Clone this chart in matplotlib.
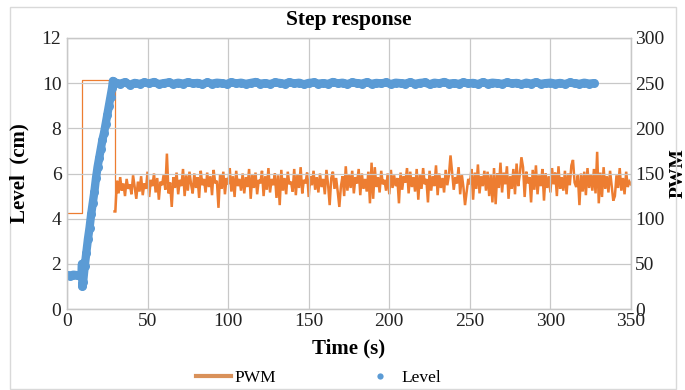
import matplotlib
matplotlib.use('Agg')
import matplotlib.pyplot as plt
import numpy as np
from matplotlib.lines import Line2D
from matplotlib.patches import Rectangle

plt.rcParams['font.family'] = ['Liberation Serif', 'DejaVu Serif']

# ---------------- data ----------------
x_ticks = [0, 50, 100, 150, 200, 250, 300, 350]
level_ticks = [0, 2, 4, 6, 8, 10, 12]
pwm_ticks = [0, 50, 100, 150, 200, 250, 300]

# PWM: initial step part
pwm_step_time = [0, 9.5, 9.5, 29.5, 29.5]
pwm_step_vals = [106, 106, 253, 253, 108]

# PWM: noisy regulated part, one sample per second from 30 s
pwm_noise_start = 30
pwm_noise_step = 1
pwm_noise_vals = [
    108, 142, 128, 146, 131, 139, 125, 144, 133, 138,
    127, 148, 135, 122, 141, 130, 147, 126, 139, 133,
    152, 124, 143, 136, 150, 129, 145, 121, 141, 137,
    149, 132, 172, 128, 140, 113, 146, 134, 151, 127,
    143, 136, 155, 125, 148, 131, 152, 138, 128, 150,
    134, 146, 123, 153, 137, 144, 129, 151, 135, 147,
    126, 154, 139, 142, 112, 149, 133, 152, 127, 145,
    138, 156, 130, 147, 124, 153, 136, 144, 131, 150,
    128, 146, 135, 155, 122, 148, 134, 151, 127, 143,
    139, 153, 125, 147, 132, 156, 129, 144, 137, 150,
    123, 148, 115, 154, 131, 145, 127, 152, 138, 141,
    130, 155, 126, 149, 134, 157, 128, 143, 139, 151,
    124, 147, 137, 153, 132, 146, 129, 150, 135, 144,
    127, 154, 138, 115, 145, 152, 133, 145, 130, 113,
    136, 147, 125, 158, 131, 149, 134, 153, 128, 146,
    139, 155, 126, 150, 133, 144, 130, 152, 117, 162,
    122, 157, 135, 146, 129, 153, 138, 143, 131, 150,
    127, 154, 134, 148, 136, 145, 117, 151, 132, 147,
    140, 156, 128, 152, 135, 146, 130, 155, 121, 149,
    133, 156, 138, 144, 118, 153, 131, 147, 136, 159,
    126, 150, 134, 145, 129, 154, 137, 148, 170, 151,
    132, 146, 139, 157, 127, 149, 135, 115, 130, 144,
    138, 155, 121, 151, 133, 160, 128, 147, 136, 153,
    131, 152, 125, 149, 118, 156, 116, 150, 134, 162,
    129, 151, 138, 158, 122, 147, 133, 155, 127, 161,
    136, 149, 168, 157, 124, 152, 139, 146, 118, 154,
    132, 159, 127, 148, 136, 155, 120, 150, 134, 147,
    129, 156, 138, 151, 125, 158, 133, 146, 131, 153,
    127, 150, 137, 159, 165, 140, 135, 148, 115, 150,
    130, 152, 126, 156, 134, 149, 131, 155, 128, 174,
    117, 151, 124, 157, 133, 147, 129, 153, 136, 120,
    125, 148, 134, 156, 131, 145, 127, 152, 135, 141,
    138,
]

# Level: start + ramp
level_ramp_time = [0, 2, 4, 6, 8, 9, 9.3, 9.6, 10, 11, 12, 13, 14, 15, 16, 17,
                   18, 19, 20, 21, 22, 23, 24, 25, 26, 27, 28, 28.5, 29]
level_ramp_vals = [1.5, 1.48, 1.52, 1.5, 1.48, 1.55, 2.0, 1.0, 1.2, 1.9, 2.5,
                   3.1, 3.6, 4.2, 4.7, 5.2, 5.8, 6.3, 6.7, 7.1, 7.5, 7.8, 8.2,
                   8.6, 9.0, 9.4, 9.8, 10.1, 10.05]

# Level: steady part, one sample every 3 s from 30 s
level_flat_start = 30
level_flat_step = 3
level_flat_vals = [
    10.02, 9.98, 10.04, 9.93, 10.01, 9.97, 10.03, 9.99, 10.05, 9.96,
    10.00, 10.03, 9.97, 10.02, 9.98, 10.04, 9.99, 10.01, 9.95, 10.03,
    9.98, 10.02, 10.00, 9.96, 10.04, 9.99, 10.02, 9.97, 10.01, 10.05,
    9.98, 10.00, 9.96, 10.03, 10.01, 9.97, 10.04, 9.99, 10.02, 9.95,
    10.01, 10.03, 9.98, 10.00, 9.97, 10.05, 9.99, 10.02, 9.96, 10.03,
    10.00, 9.98, 10.04, 9.97, 10.01, 9.99, 10.03, 9.96, 10.02, 10.00,
    9.98, 10.04, 9.97, 10.01, 10.03, 9.95, 10.02, 9.99, 10.05, 9.98,
    10.00, 9.97, 10.03, 9.99, 10.01, 9.96, 10.04, 9.98, 10.02, 10.00,
    9.97, 10.03, 9.99, 10.01, 9.95, 10.02, 9.98, 10.04, 9.97, 10.00,
    10.02, 9.98, 10.01, 9.96, 10.03, 9.99, 9.97, 10.02, 9.98, 10.00,
]

# ---------------- build series ----------------
pwm_noise_time = pwm_noise_start + pwm_noise_step * np.arange(len(pwm_noise_vals))
pwm_time = np.concatenate([pwm_step_time, pwm_noise_time])
pwm_vals = np.concatenate([pwm_step_vals, pwm_noise_vals])

level_flat_time = level_flat_start + level_flat_step * np.arange(len(level_flat_vals))
level_time = np.concatenate([level_ramp_time, level_flat_time])
level_vals = np.concatenate([level_ramp_vals, level_flat_vals])

# ---------------- figure ----------------
ORANGE = '#ED7D31'
BLUE = '#5B9BD5'
GRID = '#C8C8C8'

fig = plt.figure(figsize=(6.85, 3.90), dpi=100)
ax = fig.add_axes([67/685, 1-309/390, (631-67)/685, (309-38)/390])
ax2 = ax.twinx()
ax.set_zorder(ax2.get_zorder() + 1)
ax.patch.set_visible(False)

ax2.plot(pwm_time[:5], pwm_vals[:5], color=ORANGE, lw=0.9)
ax2.plot(pwm_time[4:], pwm_vals[4:], color=ORANGE, lw=1.8, solid_joinstyle='miter')
ax.plot(level_time, level_vals, color=BLUE, lw=6, marker='o', ms=6.5,
        markeredgewidth=0, solid_capstyle='round')

ax.set_xlim(0, 350)
ax.set_ylim(0, 12)
ax2.set_ylim(0, 300)
ax.set_xticks(x_ticks)
ax.set_yticks(level_ticks)
ax2.set_yticks(pwm_ticks)

ax.grid(True, color=GRID, lw=0.9)
ax.set_axisbelow(True)
for a in (ax, ax2):
    for s in a.spines.values():
        s.set_color(GRID)
        s.set_linewidth(0.9)
    a.tick_params(length=0, labelsize=14, colors='#222222')
ax.tick_params(axis='y', pad=4)
ax.tick_params(axis='x', pad=3)
ax2.tick_params(axis='y', pad=3)

ax.set_xlabel('Time (s)', fontsize=15, fontweight='bold', labelpad=6)
ax.set_ylabel('Level  (cm)', fontsize=15, fontweight='bold')
ax.yaxis.set_label_coords(-0.066, 0.5)
ax2.set_ylabel('PWM', fontsize=14, fontweight='bold')
ax2.yaxis.set_label_coords(1.068, 0.5)
ax.set_title('Step response', fontsize=15.5, fontweight='bold', pad=9)

handles = [Line2D([], [], color='#D9915A', lw=3),
           Line2D([], [], color=BLUE, marker='o', ls='', ms=4.5, markeredgewidth=0)]
fig.legend(handles, ['PWM', 'Level'], loc='center',
           bbox_to_anchor=(0.465, 1-378/390), ncol=2, frameon=False,
           fontsize=12.5, handlelength=2.0, handletextpad=0.2, columnspacing=5.0)

fig.add_artist(Rectangle((10/685, 1/390), (676-10)/685, (389-7)/390,
                         transform=fig.transFigure, fill=False,
                         ec='#D9D9D9', lw=1))

fig.savefig('out.png', dpi=100)
